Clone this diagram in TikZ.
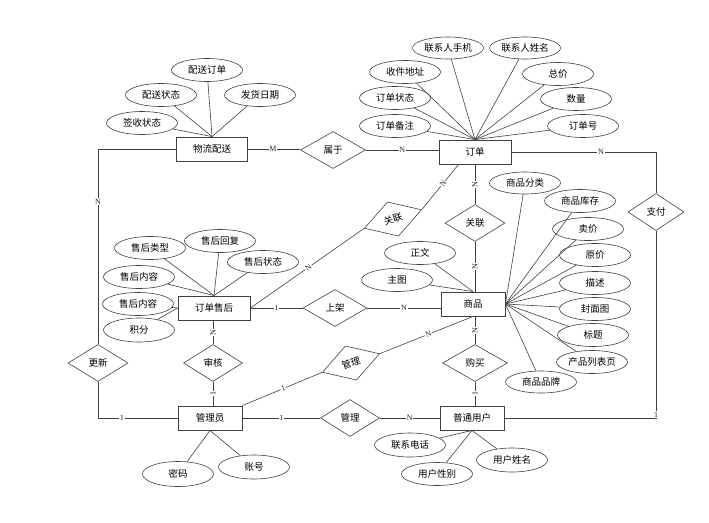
\documentclass[tikz,border=0pt]{standalone}
\usepackage{fontspec}
\newfontfamily\cjk{Noto Sans CJK SC}
\newfontfamily\cardfont{Liberation Serif}
\usetikzlibrary{shapes.geometric}
\definecolor{lc}{HTML}{404040}
\begin{document}
\begin{tikzpicture}[x=1pt,y=-1pt,
  txt/.style={font=\cjk\fontsize{9.5}{10}\selectfont},
  ent/.style={txt,draw=lc,line width=0.9pt,rectangle,minimum width=71pt,minimum height=24pt,inner sep=0pt},
  attr/.style={txt,draw=lc,line width=0.6pt,ellipse,minimum width=71pt,minimum height=23pt,inner sep=0pt},
  rel/.style={txt,draw=lc,line width=0.6pt,diamond,minimum width=62pt,minimum height=37pt,inner sep=0pt},
  conn/.style={draw=lc,line width=0.6pt},
  card/.style={font=\cardfont\fontsize{8}{8}\selectfont,fill=white,inner sep=0.7pt,text=black!85},
  rot/.style={card,rotate=90}]
\useasboundingbox (0,0) rectangle (709,522);
% entities
\node[ent] (wl) at (212,149) {物流配送};
\node[ent,minimum width=72pt] (dd) at (475,152) {订单};
\node[ent,minimum width=72pt] (sh) at (214,308) {订单售后};
\node[ent,minimum width=64pt] (sp) at (473,304) {商品};
\node[ent,minimum width=64pt] (gly) at (210,418) {管理员};
\node[ent,minimum width=64pt] (yh) at (472,418) {普通用户};
% relationships
\node[rel,minimum width=65pt] (sy) at (333,150) {属于};
\node[rel,minimum width=60pt] (gl1) at (475,223) {关联};
\node[rel,minimum width=64pt] (sj) at (335,308) {上架};
\node[rel,minimum width=65pt] (gm) at (475,363) {购买};
\node[rel,minimum width=59pt] (shh) at (213,363) {审核};
\node[rel,minimum width=60pt] (gx) at (98,363) {更新};
\node[rel,minimum width=59pt] (gl2) at (350,418) {管理};
\node[rel,minimum width=56pt] (zf) at (656,212) {支付};
\node[rel,minimum width=60pt,minimum height=36pt,rotate=18] (gl3) at (393,219) {关联};
\node[rel,minimum width=60pt,minimum height=36pt,rotate=18] (gl4) at (351,363) {管理};
% attributes of 物流配送
\node[attr] (a1) at (207,70) {配送订单};
\node[attr] (a2) at (161,95) {配送状态};
\node[attr] (a3) at (260,95) {发货日期};
\node[attr] (a4) at (142,123) {签收状态};
\foreach \a in {a1,a2,a3,a4} \draw[conn] (\a) -- (wl.north);
% attributes of 订单
\node[attr,minimum height=22pt] (b1) at (448,48) {联系人手机};
\node[attr,minimum height=22pt] (b2) at (525,48) {联系人姓名};
\node[attr] (b3) at (405,72) {收件地址};
\node[attr] (b4) at (558,74) {总价};
\node[attr] (b5) at (395,98) {订单状态};
\node[attr] (b6) at (576,99) {数量};
\node[attr] (b7) at (395,126) {订单备注};
\node[attr] (b8) at (583,126) {订单号};
\foreach \a in {b1,b2,b3,b4,b5,b6,b7,b8} \draw[conn] (\a) -- (dd.north);
% attributes of 订单售后
\node[attr] (c1) at (150,248) {售后类型};
\node[attr] (c2) at (220,241) {售后回复};
\node[attr] (c3) at (263,262) {售后状态};
\node[attr] (c4) at (139,277) {售后内容};
\node[attr] (c5) at (138,304) {售后内容};
\node[attr,minimum height=24pt] (c6) at (139,330) {积分};
\foreach \a in {c1,c2,c3,c4} \draw[conn] (\a) -- (sh.north);
\foreach \a in {c5,c6} \draw[conn] (\a) -- (sh.west);
% attributes of 商品
\node[attr,minimum height=22pt] (d1) at (525,183) {商品分类};
\node[attr] (d2) at (580,201) {商品库存};
\node[attr] (d3) at (588,229) {卖价};
\node[attr] (d4) at (595,255) {原价};
\node[attr] (d5) at (595,283) {描述};
\node[attr] (d6) at (595,309) {封面图};
\node[attr] (d7) at (593,335) {标题};
\node[attr] (d8) at (592,362) {产品列表页};
\node[attr,minimum height=22pt] (d9) at (541,382) {商品品牌};
\foreach \a in {d1,d2,d3,d4,d5,d6,d7,d8,d9} \draw[conn] (\a) -- (sp.east);
\node[attr] (d10) at (420,253) {正文};
\node[attr] (d11) at (397,280) {主图};
\foreach \a in {d10,d11} \draw[conn] (\a) -- (sp.north);
% attributes of 管理员
\node[attr,minimum height=25pt] (e1) at (178,474) {密码};
\node[attr,minimum height=24pt] (e2) at (254,467) {账号};
\foreach \a in {e1,e2} \draw[conn] (\a) -- (gly.south);
% attributes of 普通用户
\node[attr,minimum height=24pt] (f1) at (410,445) {联系电话};
\node[attr] (f2) at (437,474) {用户性别};
\node[attr,minimum height=24pt] (f3) at (512,460) {用户姓名};
\foreach \a in {f1,f2,f3} \draw[conn] (\a) -- (yh.south);
% relationship connectors
\draw[conn] (wl.east) -- node[card,pos=.48]{M} (wl.east -| sy.west);
\draw[conn] (sy.east) -- node[card]{N} (sy.east -| dd.west);
\draw[conn] (dd.east) -- node[card,pos=.62]{N} (dd.east -| zf.north) -- (zf.north);
\draw[conn] (zf.south) -- (zf.south |- yh.east) -- (yh.east);
\node[card,anchor=south] (one1) at (zf.south |- yh.east) {1};
\draw[conn] (wl.west) -- (wl.west -| gx.north) -- node[card,pos=.27]{N} (gx.north);
\draw[conn] (gx.south) -- (gx.south |- gly.west) -- node[card,pos=.3]{1} (gly.west);
\draw[conn] (sh.east) -- node[card]{1} (sj.west);
\draw[conn] (sj.east) -- node[card]{N} (sj.east -| sp.west);
\draw[conn] (dd.south) -- node[rot]{N} (gl1.north);
\draw[conn] (gl1.south) -- node[rot]{N} (gl1.south |- sp.north);
\draw[conn] (shh.north |- sh.south) -- node[rot]{N} (shh.north);
\draw[conn] (shh.south) -- node[rot]{1} (shh.south |- gly.north);
\draw[conn] (gly.east) -- node[card]{1} (gl2.west);
\draw[conn] (gl2.east) -- node[card]{N} (yh.west);
\draw[conn] (gm.north |- sp.south) -- node[rot]{N} (gm.north);
\draw[conn] (gm.south) -- node[rot]{1} (gm.south |- yh.north);
\draw[conn] (sh.east) -- node[card,sloped,pos=.51]{N} (gl3.west);
\draw[conn] (gl3.east) -- node[card,sloped,pos=.58]{N} (dd.-143);
\draw[conn] (gly.north east) -- node[card,sloped,pos=.51]{1} (gl4.west);
\draw[conn] (gl4.east) -- node[card,sloped,pos=.52]{N} (sp.south);
\end{tikzpicture}
\end{document}
